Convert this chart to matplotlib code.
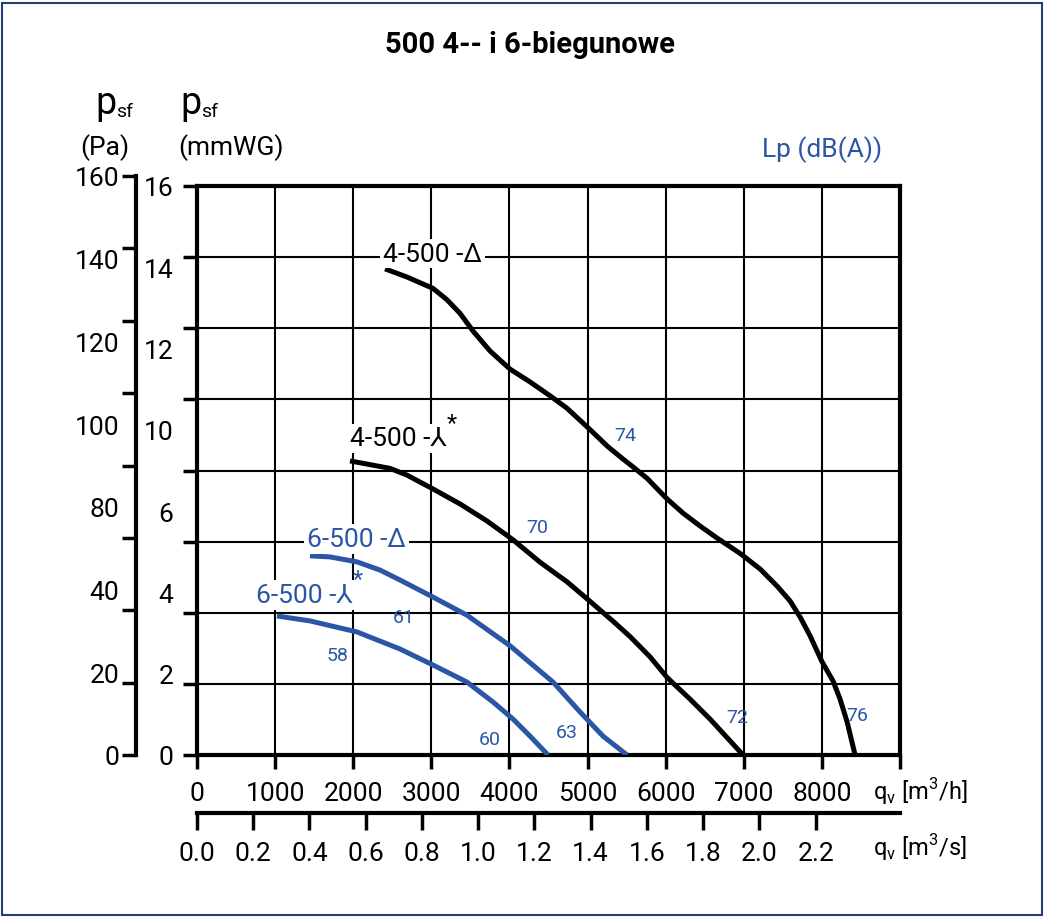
import matplotlib
matplotlib.use("Agg")
import matplotlib.pyplot as plt
from matplotlib.patches import Rectangle

plt.rcParams["font.family"] = ["Roboto", "DejaVu Sans"]

BLUE = "#2a56a5"

# curves: flow (m3/h) vs static pressure (mmWG)
q_4d = [2407, 2689, 3022, 3201, 3367, 3534, 3752, 4008, 4264, 4520, 4737, 5032, 5255, 5455,
        5583, 5762, 6018, 6223, 6440, 6658, 6952, 7209, 7426, 7593, 7721, 7849, 8002, 8143,
        8233, 8323, 8425]
p_4d = [13.67, 13.44, 13.12, 12.80, 12.42, 11.92, 11.36, 10.85, 10.49, 10.10, 9.75, 9.15, 8.68,
        8.32, 8.10, 7.78, 7.20, 6.80, 6.44, 6.10, 5.67, 5.23, 4.75, 4.33, 3.88, 3.35, 2.62, 2.08,
        1.57, 0.93, 0.0]

q_4y = [1959, 2471, 2689, 3022, 3367, 3713, 4046, 4392, 4737, 5032, 5327, 5544, 5800, 6018,
        6312, 6568, 6991]
p_4y = [8.27, 8.06, 7.87, 7.48, 7.06, 6.58, 6.05, 5.42, 4.87, 4.32, 3.76, 3.33, 2.76, 2.18,
        1.57, 1.01, 0.0]

q_6d = [1447, 1703, 2049, 2343, 2599, 3022, 3457, 4008, 4558, 4904, 5198, 5506]
p_6d = [5.60, 5.57, 5.43, 5.20, 4.92, 4.44, 3.93, 3.07, 2.05, 1.21, 0.53, 0.0]

q_6y = [1024, 1447, 2049, 2599, 3022, 3457, 3790, 4046, 4264, 4494]
p_6y = [3.91, 3.77, 3.46, 2.98, 2.53, 2.05, 1.49, 1.01, 0.53, 0.0]

curve_names = ["4-500 -Δ", "4-500 -⅄", "6-500 -Δ", "6-500 -⅄"]
curve_star = [False, True, False, True]
curve_colors = ["black", "black", BLUE, BLUE]
name_pos = [(2380, 14.1), (1959, 8.9), (1408, 6.07), (755, 4.5)]

# noise levels Lp dB(A)
lp_text = ["74", "70", "61", "58", "60", "63", "72", "76"]
lp_x = [5480, 4353, 2650, 1805, 3752, 4737, 6914, 8450]
lp_y = [9.0, 6.41, 3.88, 2.81, 0.45, 0.65, 1.07, 1.12]

# axis labels (evenly spaced, as on the original sheet)
mmwg_labels = ["0", "2", "4", "6", "10", "12", "14", "16"]
pa_labels = ["0", "20", "40", "80", "100", "120", "140", "160"]
qh_ticks = [0, 1000, 2000, 3000, 4000, 5000, 6000, 7000, 8000]
qs_ticks = [0.0, 0.2, 0.4, 0.6, 0.8, 1.0, 1.2, 1.4, 1.6, 1.8, 2.0, 2.2]

W, H = 1045, 920
fig = plt.figure(figsize=(W / 100, H / 100), dpi=100)

L, R, B, T = 197, 900, 756, 187
rect = [L / W, (H - B) / H, (R - L) / W, (B - T) / H]

ax = fig.add_axes(rect)
ax.set_xlim(0, 9000)
ax.set_ylim(0, 16)
ax.set_xticks(range(0, 9001, 1000))
ax.set_xticklabels([str(v) for v in qh_ticks] + [""], fontsize=19)
ax.set_yticks(range(0, 17, 2))
ax.set_yticklabels([])
ax.tick_params(axis="x", direction="out", length=10, width=2.5, pad=9)
ax.tick_params(axis="y", direction="out", length=10, width=2.5)
for s in ax.spines.values():
    s.set_linewidth(3)
ax.grid(True, color="black", linewidth=1.5)
ax.set_axisbelow(True)

series = [(q_4d, p_4d), (q_4y, p_4y), (q_6d, p_6d), (q_6y, p_6y)]
for (q, p), c in zip(series, curve_colors):
    ax.plot(q, p, color=c, linewidth=3.6, solid_capstyle="butt",
            solid_joinstyle="round", zorder=3)

for name, star, c, (x, y) in zip(curve_names, curve_star, curve_colors, name_pos):
    txt = ax.text(x, y, name, color=c, fontsize=19, ha="left", va="center", zorder=4,
                  bbox=dict(facecolor="white", edgecolor="none", pad=2))
    if star:
        ax.annotate("*", xy=(1, 1), xycoords=txt, xytext=(0, 3),
                    textcoords="offset points", color=c, fontsize=17,
                    ha="left", va="center", zorder=5)

for t, x, y in zip(lp_text, lp_x, lp_y):
    ax.text(x, y, t, color=BLUE, fontsize=14, ha="center", va="center", zorder=4)

# mmWG labels overlay
lab = fig.add_axes(rect, frameon=False)
lab.set_ylim(0, 7)
lab.set_yticks(range(8))
lab.set_yticklabels(mmwg_labels, fontsize=19)
lab.set_xticks([])
lab.tick_params(axis="y", length=0, pad=17)
lab.patch.set_alpha(0)

# Pa axis
pa_rect = [136 / W, (H - 756) / H, 0.001, (756 - 177) / H]
pa = fig.add_axes(pa_rect)
pa.set_ylim(0, 160)
pa.set_yticks(range(0, 161, 20))
pa.set_yticklabels([])
pa.set_xticks([])
for k in ["top", "right", "bottom"]:
    pa.spines[k].set_visible(False)
pa.spines["left"].set_linewidth(3)
pa.tick_params(axis="y", direction="out", length=10, width=2.5)
pa.patch.set_alpha(0)

pa_lab = fig.add_axes(pa_rect, frameon=False)
pa_lab.set_ylim(0, 7)
pa_lab.set_yticks(range(8))
pa_lab.set_yticklabels(pa_labels, fontsize=19)
pa_lab.set_xticks([])
pa_lab.tick_params(axis="y", length=0, pad=12)
pa_lab.patch.set_alpha(0)

# m3/s axis
qs = fig.add_axes([L / W, (H - 814) / H, (R - L) / W, 0.001])
qs.set_xlim(0, 2.5)
qs.set_xticks(qs_ticks)
qs.set_xticklabels([f"{v:.1f}" for v in qs_ticks], fontsize=19)
qs.set_yticks([])
for k in ["top", "right", "left"]:
    qs.spines[k].set_visible(False)
qs.spines["bottom"].set_linewidth(3)
qs.tick_params(axis="x", direction="out", length=12, width=2.5, pad=8)
qs.patch.set_alpha(0)

# headers
fig.text(530 / W, 1 - 45 / H, "500 4-- i 6-biegunowe", fontsize=21, fontweight="bold",
         ha="center", va="center")
fig.text(95 / W, 1 - 103 / H, "p", fontsize=27, ha="left", va="center")
fig.text(116 / W, 1 - 112 / H, "sf", fontsize=14, ha="left", va="center")
fig.text(80 / W, 1 - 148 / H, "(Pa)", fontsize=19, ha="left", va="center")
fig.text(180 / W, 1 - 103 / H, "p", fontsize=27, ha="left", va="center")
fig.text(201 / W, 1 - 112 / H, "sf", fontsize=14, ha="left", va="center")
fig.text(178 / W, 1 - 148 / H, "(mmWG)", fontsize=19, ha="left", va="center")
fig.text(762 / W, 1 - 150 / H, "Lp (dB(A))", fontsize=19, color=BLUE, ha="left", va="center")
fig.text(873 / W, 1 - 792 / H, "q$_\\mathregular{v}$ [m$^\\mathregular{3}$/h]", fontsize=17,
         ha="left", va="center")
fig.text(873 / W, 1 - 848 / H, "q$_\\mathregular{v}$ [m$^\\mathregular{3}$/s]", fontsize=17,
         ha="left", va="center")

fig.patches.append(Rectangle((2 / W, 4 / H), 1040 / W, 912 / H, transform=fig.transFigure,
                             fill=False, edgecolor="#1f3f7a", linewidth=1.5))

fig.savefig("out.png", dpi=100)
